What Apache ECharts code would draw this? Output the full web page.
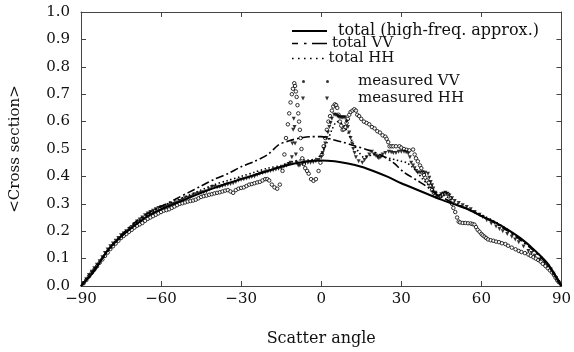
<!DOCTYPE html>
<html>
<head>
<meta charset="utf-8">
<script src="https://cdn.jsdelivr.net/npm/echarts@6/dist/echarts.min.js"></script>
<style>html,body{margin:0;padding:0;background:#fff}#c{width:574px;height:352px}</style>
</head>
<body>
<div id="c"></div>
<script>
// ---- data ----
var xTicks = [-90, -60, -30, 0, 30, 60, 90];
var yTicks = [0.0, 0.1, 0.2, 0.3, 0.4, 0.5, 0.6, 0.7, 0.8, 0.9, 1.0];

var hfAngles = [-90,-85,-80,-75,-70,-65,-60,-55,-50,-45,-40,-35,-30,-25,-20,-15,-10,-5,0,5,10,15,20,25,30,35,40,45,50,55,60,65,70,75,80,85,90];
var hfValues = [0,0.055,0.13,0.18,0.22,0.255,0.28,0.30,0.32,0.34,0.358,0.375,0.39,0.405,0.42,0.435,0.447,0.455,0.458,0.455,0.447,0.435,0.418,0.398,0.375,0.355,0.335,0.315,0.298,0.28,0.255,0.233,0.205,0.172,0.13,0.08,0];

var vvAngles = [-90,-85,-80,-75,-70,-65,-60,-55,-50,-45,-40,-35,-30,-25,-20,-16,-12,-8,-4,0,4,8,13,18,22,27,31,36,40,43,46,50,55,60,65,70,75,80,85,90];
var vvValues = [0,0.06,0.13,0.185,0.23,0.265,0.29,0.315,0.34,0.365,0.39,0.41,0.435,0.455,0.48,0.515,0.53,0.54,0.545,0.545,0.535,0.525,0.51,0.495,0.48,0.45,0.415,0.385,0.36,0.335,0.32,0.30,0.28,0.255,0.23,0.20,0.165,0.125,0.075,0];

var hhAngles = [-90,-85,-80,-75,-70,-65,-60,-55,-50,-45,-40,-35,-30,-25,-20,-15,-12,-10,-8,-5,-2,0,2,4,6,8,10,12,14,16,18,20,22,24,26,28,30,32,34,36,38,40,42,44,46,48,50,55,60,65,70,75,80,85,90];
var hhValues = [0,0.06,0.125,0.18,0.225,0.26,0.29,0.31,0.33,0.35,0.37,0.385,0.40,0.415,0.43,0.44,0.45,0.455,0.46,0.46,0.465,0.48,0.52,0.57,0.60,0.59,0.56,0.52,0.49,0.47,0.475,0.48,0.475,0.47,0.465,0.46,0.455,0.45,0.435,0.415,0.39,0.37,0.35,0.335,0.33,0.32,0.305,0.28,0.26,0.235,0.205,0.17,0.13,0.078,0];

var mvvAngles = [-89,-88,-87,-86,-85,-84,-83,-82,-81,-80,-79,-78,-77,-76,-75,-74,-73,-72,-71,-70,-69,-68,-67,-66,-65,-64,-63,-62,-61,-60,-59,-58,-57,-56,-55,-54,-53,-52,-51,-50,-49,-48,-47,-46,-45,-44,-43,-42,-41,-40,-39,-38,-37,-36,-35,-34,-33,-32,-31,-30,-29,-28,-27,-26,-25,-24,-23,-22,-21,-20.2,-19.5,-18.5,-17.5,-16.5,-15.5,-14.5,-13.8,-13.2,-12.5,-12,-11.5,-11,-10.6,-10.1,-9.8,-9.5,-9.2,-8.9,-8.6,-8.3,-8,-7.7,-7.4,-7.1,-6.5,-6,-5.3,-4.7,-3.8,-2.9,-2,-1,-0.3,0.3,0.9,1.5,2.1,2.7,3.3,4,4.5,5.1,5.6,6,6.5,7,7.5,8,8.5,9,9.5,10,10.5,11,11.7,12.4,13,13.5,14.2,15,16,17,18,19,20,21,22,23,24,24.5,25.1,25.6,26.3,27,28,29.3,30,31,32,33,34.4,35,35.5,36.2,37,37.5,38,38.5,39,39.6,40.3,41,41.5,42.2,42.8,43.4,44,44.7,45.5,46.5,47.5,48.5,49,49.5,50.2,50.9,51.5,52,53,54,55,56,56.7,57.4,58,58.6,59.3,60,60.5,61.2,61.8,62.5,63.5,64.5,65.5,66.6,67.7,69,70,71.4,72.8,74,75,76.3,77.6,78.5,79.5,80.4,81.3,82.2,83,84,84.9,85.7,86.5,87.2,87.8,88.4,89];
var mvvValues = [0.01,0.022,0.035,0.048,0.06,0.072,0.085,0.097,0.11,0.122,0.135,0.145,0.155,0.165,0.175,0.183,0.19,0.198,0.205,0.213,0.22,0.225,0.23,0.238,0.245,0.25,0.255,0.26,0.265,0.27,0.275,0.277,0.28,0.285,0.29,0.295,0.30,0.302,0.305,0.308,0.31,0.312,0.315,0.32,0.325,0.328,0.33,0.333,0.335,0.338,0.34,0.342,0.345,0.348,0.35,0.345,0.34,0.35,0.355,0.358,0.36,0.365,0.37,0.372,0.375,0.378,0.38,0.385,0.39,0.39,0.385,0.37,0.36,0.355,0.37,0.42,0.48,0.54,0.59,0.63,0.67,0.70,0.72,0.74,0.73,0.71,0.69,0.66,0.63,0.60,0.57,0.54,0.50,0.466,0.445,0.43,0.42,0.41,0.39,0.384,0.39,0.42,0.45,0.48,0.51,0.54,0.57,0.60,0.62,0.64,0.655,0.663,0.66,0.65,0.625,0.60,0.585,0.57,0.572,0.58,0.595,0.61,0.625,0.635,0.64,0.645,0.64,0.625,0.62,0.61,0.60,0.595,0.59,0.58,0.575,0.565,0.56,0.55,0.545,0.537,0.525,0.51,0.51,0.51,0.51,0.51,0.505,0.50,0.497,0.495,0.498,0.48,0.466,0.455,0.44,0.43,0.413,0.405,0.395,0.385,0.377,0.365,0.35,0.34,0.33,0.325,0.325,0.328,0.335,0.338,0.335,0.32,0.30,0.285,0.27,0.25,0.235,0.232,0.23,0.23,0.229,0.228,0.226,0.224,0.215,0.205,0.198,0.19,0.185,0.18,0.175,0.17,0.167,0.165,0.162,0.16,0.156,0.153,0.147,0.14,0.134,0.128,0.124,0.12,0.115,0.11,0.105,0.10,0.095,0.089,0.081,0.073,0.065,0.057,0.049,0.04,0.03,0.021,0.014,0.008];

var mhhAngles = [-89,-88,-87,-86,-85,-84,-83,-82,-81,-80,-79,-78,-77,-76,-75,-74,-73,-72,-71,-70,-69,-68,-67,-66,-65,-64,-63,-62,-61,-60,-59,-58,-57,-56,-55,-54,-53,-52,-51,-50,-49,-48,-47,-46,-45,-44,-43,-42,-41,-40,-39,-38,-37,-36,-35,-34,-33,-32,-31,-30,-29,-28,-27,-26,-25,-24,-23,-22,-21,-20,-19,-18,-17,-16,-15,-14,-13,-12.2,-11.5,-11,-10.8,-10.5,-10.3,-10,-9.8,-9.5,-9.2,-8.6,-8,-7,-6,-5,-4,-3,-2,-1,0,0.5,1,1.5,2,2.5,3,3.5,4,4.8,5.4,6,6.5,7,7.5,8,8.5,9,9.5,10,10.5,11,11.5,12,12.5,13,14,15.4,16.2,17,18,19,19.8,20.5,21.1,21.6,22.3,23,24,25.3,26.2,27,28,29,30,31,31.8,32.6,33.2,33.7,34.4,35,35.6,36.2,37,38,39,40,40.5,41,41.5,42,42.8,43.5,44.2,45,45.8,46.5,47.2,48,49,50,51.5,53,54.5,56,57.5,59.3,60.5,62,63.7,65.5,66.8,68,69.7,71.4,72.7,74,75.8,77.6,78.8,80,81.9,83.8,84.9,86,87,88,88.8,89.5];
var mhhValues = [0.01,0.025,0.04,0.052,0.065,0.078,0.09,0.105,0.12,0.133,0.145,0.155,0.165,0.175,0.185,0.192,0.20,0.207,0.215,0.225,0.235,0.243,0.25,0.258,0.265,0.27,0.275,0.28,0.285,0.288,0.285,0.29,0.295,0.298,0.30,0.305,0.31,0.315,0.32,0.322,0.325,0.33,0.335,0.338,0.34,0.342,0.345,0.352,0.36,0.362,0.36,0.362,0.365,0.368,0.37,0.372,0.375,0.38,0.385,0.388,0.39,0.392,0.395,0.398,0.40,0.405,0.41,0.412,0.415,0.418,0.42,0.422,0.425,0.428,0.43,0.435,0.44,0.445,0.45,0.47,0.52,0.57,0.61,0.58,0.52,0.48,0.45,0.44,0.44,0.445,0.45,0.45,0.45,0.452,0.455,0.46,0.47,0.485,0.50,0.52,0.54,0.56,0.58,0.595,0.61,0.625,0.625,0.62,0.618,0.615,0.615,0.615,0.615,0.615,0.60,0.58,0.56,0.54,0.52,0.50,0.485,0.47,0.455,0.45,0.46,0.47,0.48,0.49,0.48,0.475,0.47,0.466,0.47,0.48,0.485,0.49,0.488,0.485,0.485,0.49,0.49,0.49,0.488,0.484,0.47,0.45,0.44,0.43,0.42,0.413,0.414,0.415,0.413,0.41,0.395,0.38,0.368,0.356,0.34,0.325,0.328,0.335,0.338,0.34,0.337,0.33,0.32,0.31,0.303,0.295,0.288,0.28,0.27,0.26,0.252,0.24,0.228,0.217,0.208,0.20,0.19,0.18,0.17,0.16,0.144,0.128,0.12,0.11,0.096,0.082,0.072,0.06,0.045,0.028,0.015,0.005];

function pairs(a, b) { return a.map(function (x, i) { return [x, b[i]]; }); }

var FONT = 'DejaVu Serif';
var chart = echarts.init(document.getElementById('c'), null, {renderer: 'canvas'});

var axisCommon = {
  type: 'value',
  axisLine: {show: true, onZero: false, lineStyle: {color: '#444', width: 1}},
  axisTick: {show: true, inside: true, length: 5, lineStyle: {color: '#444'}},
  splitLine: {show: false}
};

function legendItem(name, top, left, fontSize, pad, iw, ih, icon) {
  return {
    data: [{name: name, icon: icon, itemStyle: {color: '#000', borderWidth: 0}}],
    orient: 'vertical', left: left, top: top,
    itemWidth: iw, itemHeight: ih, padding: 0, selectedMode: false,
    textStyle: {fontFamily: FONT, fontSize: fontSize, color: '#111', padding: [0, 0, 0, pad]}
  };
}

var solidIcon = 'path://M0,0H35V2H0Z';
var dashDotIcon = 'path://M0,0H6V1.6H0ZM12,0H14.5V1.6H12ZM20,0H35V1.6H20Z';
var dottedIcon = 'path://M0,0H1.6V1.6H0ZM6,0H7.6V1.6H6ZM12,0H13.6V1.6H12ZM18,0H19.6V1.6H18ZM24,0H25.6V1.6H24ZM30,0H31.6V1.6H30Z';
var dotsIcon = 'path://M0,1.5a1.5,1.5 0 1,0 3,0a1.5,1.5 0 1,0 -3,0ZM24,1.5a1.5,1.5 0 1,0 3,0a1.5,1.5 0 1,0 -3,0Z';
var triIcon = 'path://M0,0L4,0L2,4ZM24,0L28,0L26,4Z';

var option = {
  animation: false,
  backgroundColor: '#fff',
  grid: {left: 72, right: 10, top: 12, bottom: 59},
  legend: [
    legendItem('total (high-freq. approx.)', 23, 292, 16, 6, 35, 2, solidIcon),
    legendItem('total VV', 36, 292, 15, 0, 35, 1.6, dashDotIcon),
    legendItem('total HH', 51, 292, 15, 0, 31.6, 1.6, dottedIcon),
    legendItem('measured VV', 74, 302, 15, 24, 27, 3, dotsIcon),
    legendItem('measured HH', 91, 301, 15, 24, 28, 4, triIcon)
  ],
  xAxis: [
    Object.assign({}, axisCommon, {
      min: -90, max: 90, interval: 30, position: 'bottom',
      name: 'Scatter angle', nameLocation: 'middle', nameGap: 45,
      nameTextStyle: {fontFamily: FONT, fontSize: 16, color: '#111'},
      axisLabel: {fontFamily: FONT, fontSize: 15, color: '#111', margin: 6,
        formatter: function (v) { return xTicks.indexOf(v) < 0 ? '' : (v < 0 ? '\u2212' + Math.abs(v) : String(v)); }}
    }),
    Object.assign({}, axisCommon, {
      min: -90, max: 90, interval: 30, position: 'top', axisLabel: {show: false}
    })
  ],
  yAxis: [
    Object.assign({}, axisCommon, {
      min: 0, max: 1, interval: 0.1, position: 'left',
      name: '<Cross section>', nameLocation: 'middle', nameGap: 58, nameRotate: 90,
      nameTextStyle: {fontFamily: FONT, fontSize: 15, color: '#111'},
      axisLabel: {fontFamily: FONT, fontSize: 15, color: '#111', margin: 11,
        formatter: function (v) { return v.toFixed(1); }}
    }),
    Object.assign({}, axisCommon, {
      min: 0, max: 1, interval: 0.1, position: 'right', axisLabel: {show: false}
    })
  ],
  series: [
    {name: 'total (high-freq. approx.)', type: 'line', smooth: 0.3, symbol: 'none',
     lineStyle: {color: '#000', width: 2}, itemStyle: {color: '#000'},
     data: pairs(hfAngles, hfValues), z: 5},
    {name: 'total VV', type: 'line', smooth: 0.3, symbol: 'none',
     lineStyle: {color: '#000', width: 1.6, type: [8, 3, 2, 3]}, itemStyle: {color: '#000'},
     data: pairs(vvAngles, vvValues), z: 4},
    {name: 'total HH', type: 'line', smooth: 0.3, symbol: 'none',
     lineStyle: {color: '#000', width: 1.6, type: [1.5, 2.5]}, itemStyle: {color: '#000'},
     data: pairs(hhAngles, hhValues), z: 4},
    {name: 'measured VV', type: 'scatter', symbol: 'circle', symbolSize: 3.5,
     itemStyle: {color: '#fff', borderColor: '#000', borderWidth: 1},
     data: pairs(mvvAngles, mvvValues), z: 3},
    {name: 'measured HH', type: 'scatter', symbol: 'triangle', symbolRotate: 180, symbolSize: 4,
     itemStyle: {color: '#000'},
     data: pairs(mhhAngles, mhhValues), z: 3}
  ]
};
chart.setOption(option);
</script>
</body>
</html>
